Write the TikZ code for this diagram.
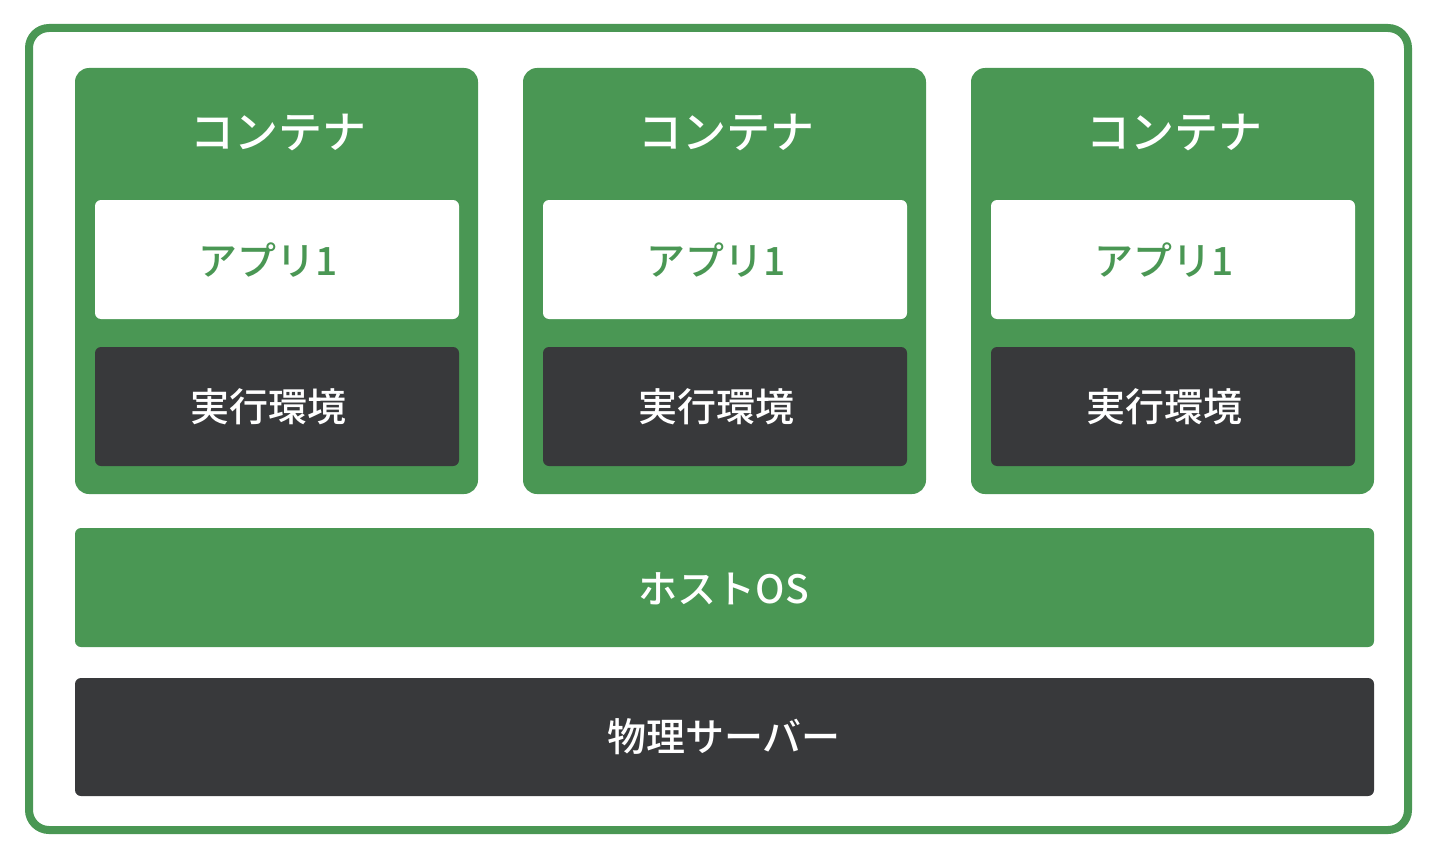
\documentclass[tikz,border=0pt]{standalone}
\usepackage{fontspec}
\setmainfont{Noto Sans CJK JP}[UprightFont=* Medium]
\definecolor{grn}{HTML}{4A9754}
\definecolor{drk}{HTML}{38393B}
\begin{document}
\begin{tikzpicture}[x=1pt,y=-1pt,
  frame/.style={draw=grn,line width=8pt,rounded corners=20pt},
  cont/.style={fill=grn,rounded corners=14pt},
  appbox/.style={fill=white,rounded corners=6pt},
  runbox/.style={fill=drk,rounded corners=6pt},
  hostbox/.style={fill=grn,rounded corners=6pt},
  srvbox/.style={fill=drk,rounded corners=6pt},
  ttl/.style={text=white,font=\fontsize{44}{46}\selectfont},
  lbl/.style={font=\fontsize{39}{41}\selectfont}]
\useasboundingbox (0,0) rectangle (1440,864);
\draw[frame] (29,28) rectangle (1408,830);
\foreach \i/\x in {1/75,2/523,3/971}{
  \fill[cont] (\x,68) rectangle ++(403,426);
  \fill[appbox] (\x+20,200) rectangle ++(364,119);
  \fill[runbox] (\x+20,347) rectangle ++(364,119);
  \node[ttl] (t\i) at (\x+203,133) {コンテナ};
  \node[lbl,text=grn] (a\i) at (\x+193,260) {アプリ1};
  \node[lbl,text=white] (r\i) at (\x+193,407) {実行環境};
}
\fill[hostbox] (75,528) rectangle (1374,647);
\node[lbl,text=white] (host) at (724,589) {ホストOS};
\fill[srvbox] (75,678) rectangle (1374,796);
\node[lbl,text=white] (srv) at (724,737) {物理サーバー};
\end{tikzpicture}
\end{document}
